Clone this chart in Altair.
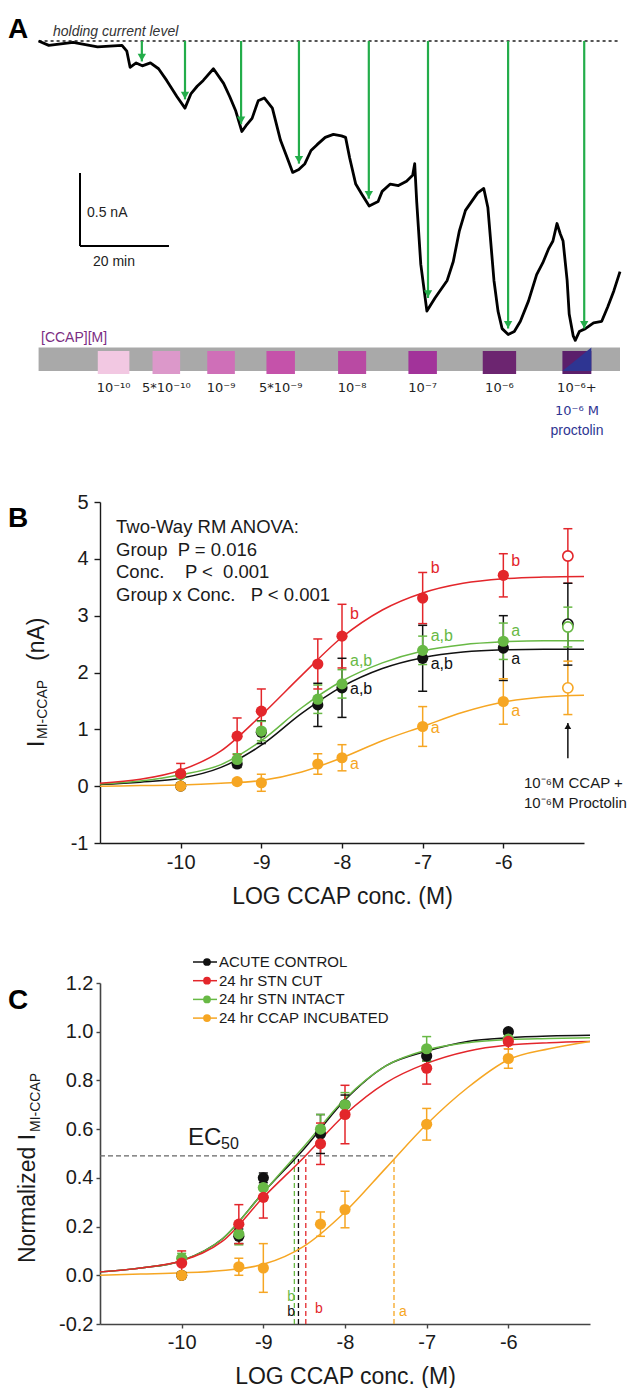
import altair as alt
import pandas as pd

FONT = "Liberation Sans"
SUPFONT = "DejaVu Sans"

# ---------------- Panel A data ----------------
TRACE_T = [0.0, 2.29, 7.77, 13.25, 18.74, 19.83, 20.56, 21.93, 23.30, 25.13,
           26.96, 28.78, 31.07, 32.89, 34.26, 35.63, 37.0, 39.29, 41.57, 42.94,
           44.31, 45.68, 46.60, 47.97, 49.34, 50.71, 52.53, 54.36, 55.73, 57.10,
           58.47, 59.84, 61.21, 62.58, 64.41, 66.24, 68.06, 68.98, 69.89, 71.26,
           72.63, 74.28, 76.29, 77.20, 79.03, 80.85, 82.68, 84.05, 84.51, 84.96,
           85.88, 87.25, 89.07, 91.81, 93.18, 94.55, 95.92, 97.29, 98.66, 100.03,
           100.95, 102.32, 103.23, 104.15, 105.52, 106.89, 108.26, 110.09, 111.91, 113.28,
           114.65, 115.57, 116.48, 117.21, 117.85, 118.76, 119.22, 120.13, 120.59, 121.50,
           122.87, 124.70, 126.53, 127.90, 129.27, 130.64]
TRACE_I = [0.0, -0.03, -0.01, -0.04, -0.03, -0.07, -0.18, -0.15, -0.17, -0.15,
           -0.19, -0.27, -0.38, -0.46, -0.36, -0.31, -0.27, -0.19, -0.29, -0.38,
           -0.48, -0.62, -0.58, -0.53, -0.41, -0.39, -0.46, -0.68, -0.79, -0.90,
           -0.88, -0.84, -0.75, -0.71, -0.66, -0.64, -0.65, -0.66, -0.80, -0.98,
           -1.05, -1.13, -1.10, -1.03, -0.98, -0.99, -0.96, -0.92, -0.84, -1.10,
           -1.53, -1.85, -1.76, -1.64, -1.51, -1.30, -1.16, -1.10, -1.04, -1.01,
           -1.14, -1.64, -1.85, -1.97, -2.01, -1.99, -1.92, -1.78, -1.60, -1.52,
           -1.42, -1.37, -1.25, -1.32, -1.37, -1.64, -1.87, -2.02, -2.05, -1.99,
           -1.97, -1.93, -1.92, -1.82, -1.71, -1.58]
ARROW_T = [23.2, 32.9, 45.5, 58.5, 74.2, 87.5, 105.5, 122.6]
ARROW_I = [-0.14, -0.40, -0.57, -0.84, -1.08, -1.76, -1.97, -1.97]
RECORD_END = 130.64
BAR_START = [13.3, 25.6, 37.9, 51.2, 67.3, 83.1, 99.8, 117.7]
BAR_END = [20.4, 31.8, 44.1, 57.6, 73.6, 89.5, 107.3, 124.2]
BAR_LABELS = ["10⁻¹⁰", "5*10⁻¹⁰", "10⁻⁹", "5*10⁻⁹", "10⁻⁸", "10⁻⁷", "10⁻⁶", "10⁻⁶+"]
BAR_COLORS = ["#f2c8e2", "#dc98ca", "#cf6fb8", "#c552aa", "#b94aa3", "#a2339a", "#6c2570", "#5b1f6b"]
SCALE_T, SCALE_I = 9.3, -1.404   # scale bar corner
SCALE_NA, SCALE_MIN = 0.5, 20

# ---------------- Panel B / C data ----------------
GROUPS = ["ACUTE CONTROL", "24 hr STN CUT", "24 hr STN INTACT", "24 hr CCAP INCUBATED"]
COLORS = ["#111111", "#e3262b", "#68b945", "#f6a623"]
DRAW = [0, 2, 1, 3]
LOGC = [-10, -9.3, -9, -8.3, -8, -7, -6]

B_MEAN = [[0.0, 0.39, 0.95, 1.43, 1.73, 2.25, 2.43],
          [0.22, 0.88, 1.32, 2.15, 2.64, 3.31, 3.71],
          [0.20, 0.47, 0.97, 1.53, 1.80, 2.39, 2.55],
          [0.0, 0.08, 0.06, 0.39, 0.50, 1.05, 1.49]]
B_SEM = [[0.05, 0.06, 0.20, 0.38, 0.52, 0.58, 0.57],
         [0.18, 0.32, 0.39, 0.44, 0.56, 0.45, 0.38],
         [0.05, 0.10, 0.17, 0.25, 0.25, 0.25, 0.32],
         [0.03, 0.05, 0.15, 0.18, 0.23, 0.35, 0.40]]
PROC_X = -5.2
PROC_MEAN = [2.85, 4.05, 2.80, 1.73]
PROC_SEM = [0.72, 0.48, 0.35, 0.47]

CURVE_X = [-11, -10.5, -10, -9.5, -9, -8.5, -8, -7.5, -7, -6.5, -6, -5.5, -5]
B_CURVE = [[0.03, 0.07, 0.14, 0.33, 0.72, 1.28, 1.75, 2.07, 2.26, 2.36, 2.40, 2.41, 2.41],
           [0.05, 0.12, 0.28, 0.62, 1.25, 1.95, 2.62, 3.10, 3.40, 3.57, 3.65, 3.68, 3.69],
           [0.04, 0.09, 0.20, 0.38, 0.80, 1.38, 1.85, 2.17, 2.38, 2.49, 2.54, 2.56, 2.56],
           [0.0, 0.01, 0.02, 0.05, 0.10, 0.25, 0.50, 0.80, 1.05, 1.30, 1.48, 1.57, 1.60]]
B_LBL_GROUP = [1, 1, 1, 2, 2, 2, 0, 0, 0, 3, 3, 3]
B_LBL_X = [-8, -7, -6, -8, -7, -6, -8, -7, -6, -8, -7, -6]
B_LBL_Y = [3.03, 3.84, 3.96, 2.20, 2.64, 2.73, 1.71, 2.15, 2.24, 0.39, 1.02, 1.32]
B_LBL_TEXT = ["b", "b", "b", "a,b", "a,b", "a", "a,b", "a,b", "a", "a", "a", "a"]
ANOVA = ["Two-Way RM ANOVA:", "Group\u00a0\u00a0P = 0.016",
         "Conc.\u00a0\u00a0\u00a0\u00a0P <\u00a0\u00a00.001",
         "Group x Conc.\u00a0\u00a0\u00a0P < 0.001"]
ARROW_B = [0.49, 1.11]

C_MEAN = [[0.0, 0.16, 0.40, 0.58, 0.70, 0.90, 1.0],
          [0.05, 0.21, 0.32, 0.54, 0.66, 0.85, 0.96],
          [0.07, 0.17, 0.36, 0.60, 0.70, 0.93, 0.97],
          [0.0, 0.035, 0.03, 0.21, 0.27, 0.62, 0.89]]
C_SEM = [[0.01, 0.03, 0.02, 0.08, 0.04, 0.02, 0.01],
         [0.05, 0.08, 0.085, 0.085, 0.12, 0.065, 0.03],
         [0.02, 0.045, 0.05, 0.06, 0.05, 0.05, 0.02],
         [0.01, 0.035, 0.10, 0.05, 0.075, 0.065, 0.04]]
C_CURVE = [[0.014, 0.03, 0.06, 0.15, 0.34, 0.52, 0.72, 0.86, 0.92, 0.96, 0.975, 0.982, 0.985],
           [0.014, 0.03, 0.06, 0.14, 0.32, 0.485, 0.66, 0.79, 0.87, 0.92, 0.945, 0.955, 0.96],
           [0.014, 0.03, 0.06, 0.15, 0.34, 0.53, 0.725, 0.86, 0.925, 0.955, 0.968, 0.972, 0.975],
           [0.0, 0.005, 0.01, 0.02, 0.045, 0.12, 0.26, 0.44, 0.62, 0.77, 0.885, 0.93, 0.96]]
EC50_X = [-8.57, -8.48, -8.62, -7.40]
EC50_Y = 0.49
EC50_LBL_X = [-8.66, -8.32, -8.66, -7.29]
EC50_LBL_Y = [-0.15, -0.14, -0.09, -0.15]
EC50_LBL_TEXT = ["b", "b", "b", "a"]

# ---------------- helpers ----------------
ONE = pd.DataFrame({"k": [0]})
cscale = alt.Scale(domain=GROUPS, range=COLORS)
COL = alt.Color("group:N", scale=cscale, legend=None)


def text(t, x, y, size, color="#1a1a1a", font=FONT, **kw):
    return alt.Chart(ONE).mark_text(text=t, font=font, fontSize=size, color=color, **kw).encode(
        x=alt.value(x), y=alt.value(y))


AX = dict(labelFont=FONT, labelFontSize=20, labelColor="#1a1a1a", titleFont=FONT,
          titleFontSize=23, titleFontWeight="normal", titleColor="#1a1a1a",
          domainColor="#1a1a1a", domainWidth=1.4, tickColor="#1a1a1a", tickWidth=1.4,
          grid=False)

# ---------------- Panel A ----------------
WA, HA = 520, 321
xA = alt.Scale(domain=[13.8, RECORD_END], nice=False, zero=False)
yA = alt.Scale(domain=[-2.1986, 0], nice=False, zero=False)


def XA(f):
    return alt.X(f, type="quantitative", scale=xA, axis=None)


def YA(f):
    return alt.Y(f, type="quantitative", scale=yA, axis=None)


trace = pd.DataFrame({"t": TRACE_T, "i": TRACE_I})
arrows = pd.DataFrame({"t": ARROW_T, "i": ARROW_I, "z": [0.0] * len(ARROW_T)})
bars = pd.DataFrame({"t0": BAR_START, "t1": BAR_END, "lab": BAR_LABELS})
bars["mid"] = [(a + b) / 2 for a, b in zip(BAR_START, BAR_END)]
rec = pd.DataFrame({"t0": [0.0], "t1": [RECORD_END], "i": [0.0], "i0": [-2.10], "i1": [-2.26]})
tri = pd.DataFrame({"t": [BAR_START[-1], BAR_END[-1]], "lo": [-2.26, -2.26], "hi": [-2.26, -2.10]})
sbar = pd.DataFrame({"t0": [SCALE_T], "t1": [SCALE_T + SCALE_MIN], "i0": [SCALE_I],
                     "i1": [SCALE_I + SCALE_NA]})

GREEN_ARROW = "#23ad4a"
a_layers = [
    alt.Chart(rec).mark_rect(color="#a9a9a9").encode(x=XA("t0"), x2="t1", y=YA("i0"), y2="i1"),
    alt.Chart(bars).mark_rect().encode(
        x=XA("t0"), x2="t1", y=alt.value(310), y2=alt.value(333),
        color=alt.Color("lab:N", scale=alt.Scale(domain=BAR_LABELS, range=BAR_COLORS), legend=None)),
    alt.Chart(tri).mark_area(color="#2e3592", opacity=1).encode(x=XA("t"), y=YA("lo"), y2="hi"),
    alt.Chart(bars).mark_text(font=SUPFONT, fontSize=13, color="#222", baseline="middle").encode(
        x=XA("mid"), y=alt.value(347), text="lab:N"),
    alt.Chart(rec).mark_rule(color="#555", strokeDash=[3, 3], strokeWidth=2.2).encode(
        x=XA("t0"), x2="t1", y=YA("i")),
    alt.Chart(trace).mark_line(color="#000", strokeWidth=2.8, strokeJoin="round").encode(
        x=XA("t"), y=YA("i")),
    alt.Chart(arrows).mark_rule(color=GREEN_ARROW, strokeWidth=2.2).encode(
        x=XA("t"), y=YA("z"), y2="i"),
    alt.Chart(arrows).mark_point(shape="triangle-down", filled=True, color=GREEN_ARROW,
                                 size=70, opacity=1, yOffset=-4).encode(x=XA("t"), y=YA("i")),
    alt.Chart(sbar).mark_rule(color="#000", strokeWidth=2).encode(x=XA("t0"), y=YA("i0"), y2="i1"),
    alt.Chart(sbar).mark_rule(color="#000", strokeWidth=2).encode(x=XA("t0"), x2="t1", y=YA("i0")),
    text("A", -92, -11, 28, "#000", fontWeight="bold", align="left"),
    text("holding current level", -47, -9, 14, "#333", fontStyle="italic", align="left"),
    text("0.5 nA", -13, 172, 14, "#222", align="left", baseline="middle"),
    text("20 min", -7, 221, 14, "#222", align="left", baseline="middle"),
    text("[CCAP][M]", -59, 297, 14, "#7b2d82", align="left", baseline="middle"),
    text("10⁻⁶ M", 477, 370, 13, "#2e3592", font=SUPFONT, baseline="middle"),
    text("proctolin", 477, 390, 14, "#2e3592", baseline="middle"),
]
panelA = alt.layer(*a_layers).properties(width=WA, height=HA)

# ---------------- Panel B ----------------
WB, HB = 484, 341


def long_points(means, sems, xs):
    rows = []
    for g in DRAW:
        for x, m, s in zip(xs, means[g], sems[g]):
            rows.append({"group": GROUPS[g], "x": x, "v": m, "lo": m - s, "hi": m + s})
    return pd.DataFrame(rows)


def long_curve(curves):
    rows = []
    for g in DRAW:
        for x, v in zip(CURVE_X, curves[g]):
            rows.append({"group": GROUPS[g], "x": x, "v": v})
    return pd.DataFrame(rows)


def caps(df):
    a = df[["group", "x", "lo"]].rename(columns={"lo": "v"})
    b = df[["group", "x", "hi"]].rename(columns={"hi": "v"})
    return pd.concat([a, b], ignore_index=True)


xB = alt.Scale(domain=[-11, -5], nice=False, zero=False)
yB = alt.Scale(domain=[-1, 5], nice=False, zero=False)
axBx = alt.Axis(values=[-10, -9, -8, -7, -6], labelExpr="'' + datum.value",
                title="LOG CCAP conc. (M)", tickSize=5, labelPadding=4, titlePadding=13, **AX)
axBy = alt.Axis(values=[-1, 0, 1, 2, 3, 4, 5], labelExpr="'' + datum.value", title=None,
                tickSize=6, labelPadding=6, **AX)


def XB(f):
    return alt.X(f, type="quantitative", scale=xB, axis=axBx)


def YB(f):
    return alt.Y(f, type="quantitative", scale=yB, axis=axBy)


bpts = long_points(B_MEAN, B_SEM, LOGC)
bcur = long_curve(B_CURVE)
bproc = pd.DataFrame({"group": [GROUPS[g] for g in DRAW], "x": [PROC_X] * 4,
                      "v": [PROC_MEAN[g] for g in DRAW],
                      "lo": [PROC_MEAN[g] - PROC_SEM[g] for g in DRAW],
                      "hi": [PROC_MEAN[g] + PROC_SEM[g] for g in DRAW]})
blbl = pd.DataFrame({"group": [GROUPS[g] for g in B_LBL_GROUP], "x": B_LBL_X, "v": B_LBL_Y,
                     "txt": B_LBL_TEXT})
barrow = pd.DataFrame({"x": [PROC_X], "y0": [ARROW_B[0]], "y1": [ARROW_B[1]]})


def err_layers(df, XF, YF):
    return [
        alt.Chart(df).mark_rule(strokeWidth=1.5).encode(x=XF("x"), y=YF("lo"), y2="hi", color=COL),
        alt.Chart(caps(df)).mark_point(shape="stroke", size=81, strokeWidth=1.5, filled=False,
                                       opacity=1).encode(x=XF("x"), y=YF("v"), color=COL),
    ]


b_layers = [
    alt.Chart(bcur).mark_line(strokeWidth=1.5, interpolate="monotone").encode(
        x=XB("x"), y=YB("v"), color=COL, detail="group:N"),
    *err_layers(bpts, XB, YB),
    *err_layers(bproc, XB, YB),
    alt.Chart(bpts).mark_point(shape="circle", filled=True, size=125, opacity=1).encode(
        x=XB("x"), y=YB("v"), color=COL),
    alt.Chart(bproc).mark_point(shape="circle", size=105, fill="white", fillOpacity=1,
                                strokeWidth=1.6, opacity=1).encode(
        x=XB("x"), y=YB("v"), stroke=alt.Stroke("group:N", scale=cscale, legend=None)),
    alt.Chart(blbl).mark_text(font=FONT, fontSize=16, align="left", baseline="middle", dx=8).encode(
        x=XB("x"), y=YB("v"), text="txt:N", color=COL),
    alt.Chart(barrow).mark_rule(color="#111", strokeWidth=1.5).encode(x=XB("x"), y=YB("y0"), y2="y1"),
    alt.Chart(barrow).mark_point(shape="triangle-up", filled=True, color="#111", size=45,
                                 opacity=1, yOffset=3).encode(x=XB("x"), y=YB("y1")),
    text("B", -92, 17, 28, "#000", fontWeight="bold", align="left"),
    text("I", -63, 245, 23, angle=270, align="left"),
    text("MI-CCAP", -57, 237, 14, angle=270, align="left"),
    text("(nA)", -63, 159, 23, angle=270, align="left"),
    text("10⁻⁶M CCAP +", 424, 281, 15, align="left", baseline="middle"),
    text("10⁻⁶M Proctolin", 424, 301, 15, align="left", baseline="middle"),
]
for k, line in enumerate(ANOVA):
    b_layers.append(text(line, 16, 25 + k * 22.5, 18.5, align="left", baseline="middle"))
panelB = alt.layer(*b_layers).properties(width=WB, height=HB)

# ---------------- Panel C ----------------
WC, HC = 490, 341
xC = alt.Scale(domain=[-11, -5], nice=False, zero=False)
yC = alt.Scale(domain=[-0.2, 1.2], nice=False, zero=False)
AXC = dict(AX)
AXC.update(domainColor="#444", tickColor="#444", domainWidth=1.6)
axCx = alt.Axis(values=[-10, -9, -8, -7, -6], labelExpr="'' + datum.value",
                title="LOG CCAP conc. (M)", tickSize=4, labelPadding=4, titlePadding=13, **AXC)
axCy = alt.Axis(values=[-0.2, 0.0, 0.2, 0.4, 0.6, 0.8, 1.0, 1.2],
                labelExpr="replace(format(datum.value, '.1f'), '−', '-')", title=None,
                tickSize=4, labelPadding=3, **AXC)


def XC(f):
    return alt.X(f, type="quantitative", scale=xC, axis=axCx)


def YC(f):
    return alt.Y(f, type="quantitative", scale=yC, axis=axCy)


cpts = long_points(C_MEAN, C_SEM, LOGC)
ccur = long_curve(C_CURVE)
ec = pd.DataFrame({"group": GROUPS, "x": EC50_X, "y0": [-0.2] * 4, "y1": [EC50_Y] * 4})
ech = pd.DataFrame({"x0": [-11], "x1": [max(EC50_X)], "y": [EC50_Y]})
eclbl = pd.DataFrame({"group": GROUPS, "x": EC50_LBL_X, "v": EC50_LBL_Y, "txt": EC50_LBL_TEXT})

c_layers = [
    alt.Chart(ech).mark_rule(color="#666", strokeDash=[5, 3], strokeWidth=1.2).encode(
        x=XC("x0"), x2="x1", y=YC("y")),
    alt.Chart(ec).mark_rule(strokeDash=[5, 3], strokeWidth=1.3).encode(
        x=XC("x"), y=YC("y0"), y2="y1", color=COL),
    alt.Chart(ccur).mark_line(strokeWidth=1.5, interpolate="monotone").encode(
        x=XC("x"), y=YC("v"), color=COL, detail="group:N"),
    *err_layers(cpts, XC, YC),
    alt.Chart(cpts).mark_point(shape="circle", filled=True, size=125, opacity=1).encode(
        x=XC("x"), y=YC("v"), color=COL),
    alt.Chart(eclbl).mark_text(font=FONT, fontSize=14, baseline="middle").encode(
        x=XC("x"), y=YC("v"), text="txt:N", color=COL),
    text("C", -92, 18, 28, "#000", fontWeight="bold", align="left"),
    text("Normalized I", -72, 280, 23, angle=270, align="left"),
    text("MI-CCAP", -64, 149, 14, angle=270, align="left"),
    text("EC", 88, 155, 24, align="left", baseline="middle"),
    text("50", 121, 161, 16, align="left", baseline="middle"),
]
for i, g in enumerate(GROUPS):
    yy = -21 + i * 18.7
    c_layers += [
        alt.Chart(ONE).mark_rule(color=COLORS[i], strokeWidth=1.5).encode(
            x=alt.value(93), x2=alt.value(117), y=alt.value(yy)),
        alt.Chart(ONE).mark_point(shape="circle", filled=True, color=COLORS[i], size=60,
                                  opacity=1).encode(x=alt.value(107), y=alt.value(yy)),
        text(g, 119, yy, 15, align="left", baseline="middle"),
    ]
panelC = alt.layer(*c_layers).properties(width=WC, height=HC)

chart = alt.vconcat(panelA, panelB, panelC, spacing=140, bounds="flush").resolve_scale(
    color="independent", stroke="independent").properties(
    padding={"left": 0, "top": 8, "right": 0, "bottom": 0}).configure_view(strokeWidth=0)

chart.save("out.html", embed_options={"renderer": "svg", "actions": False})
